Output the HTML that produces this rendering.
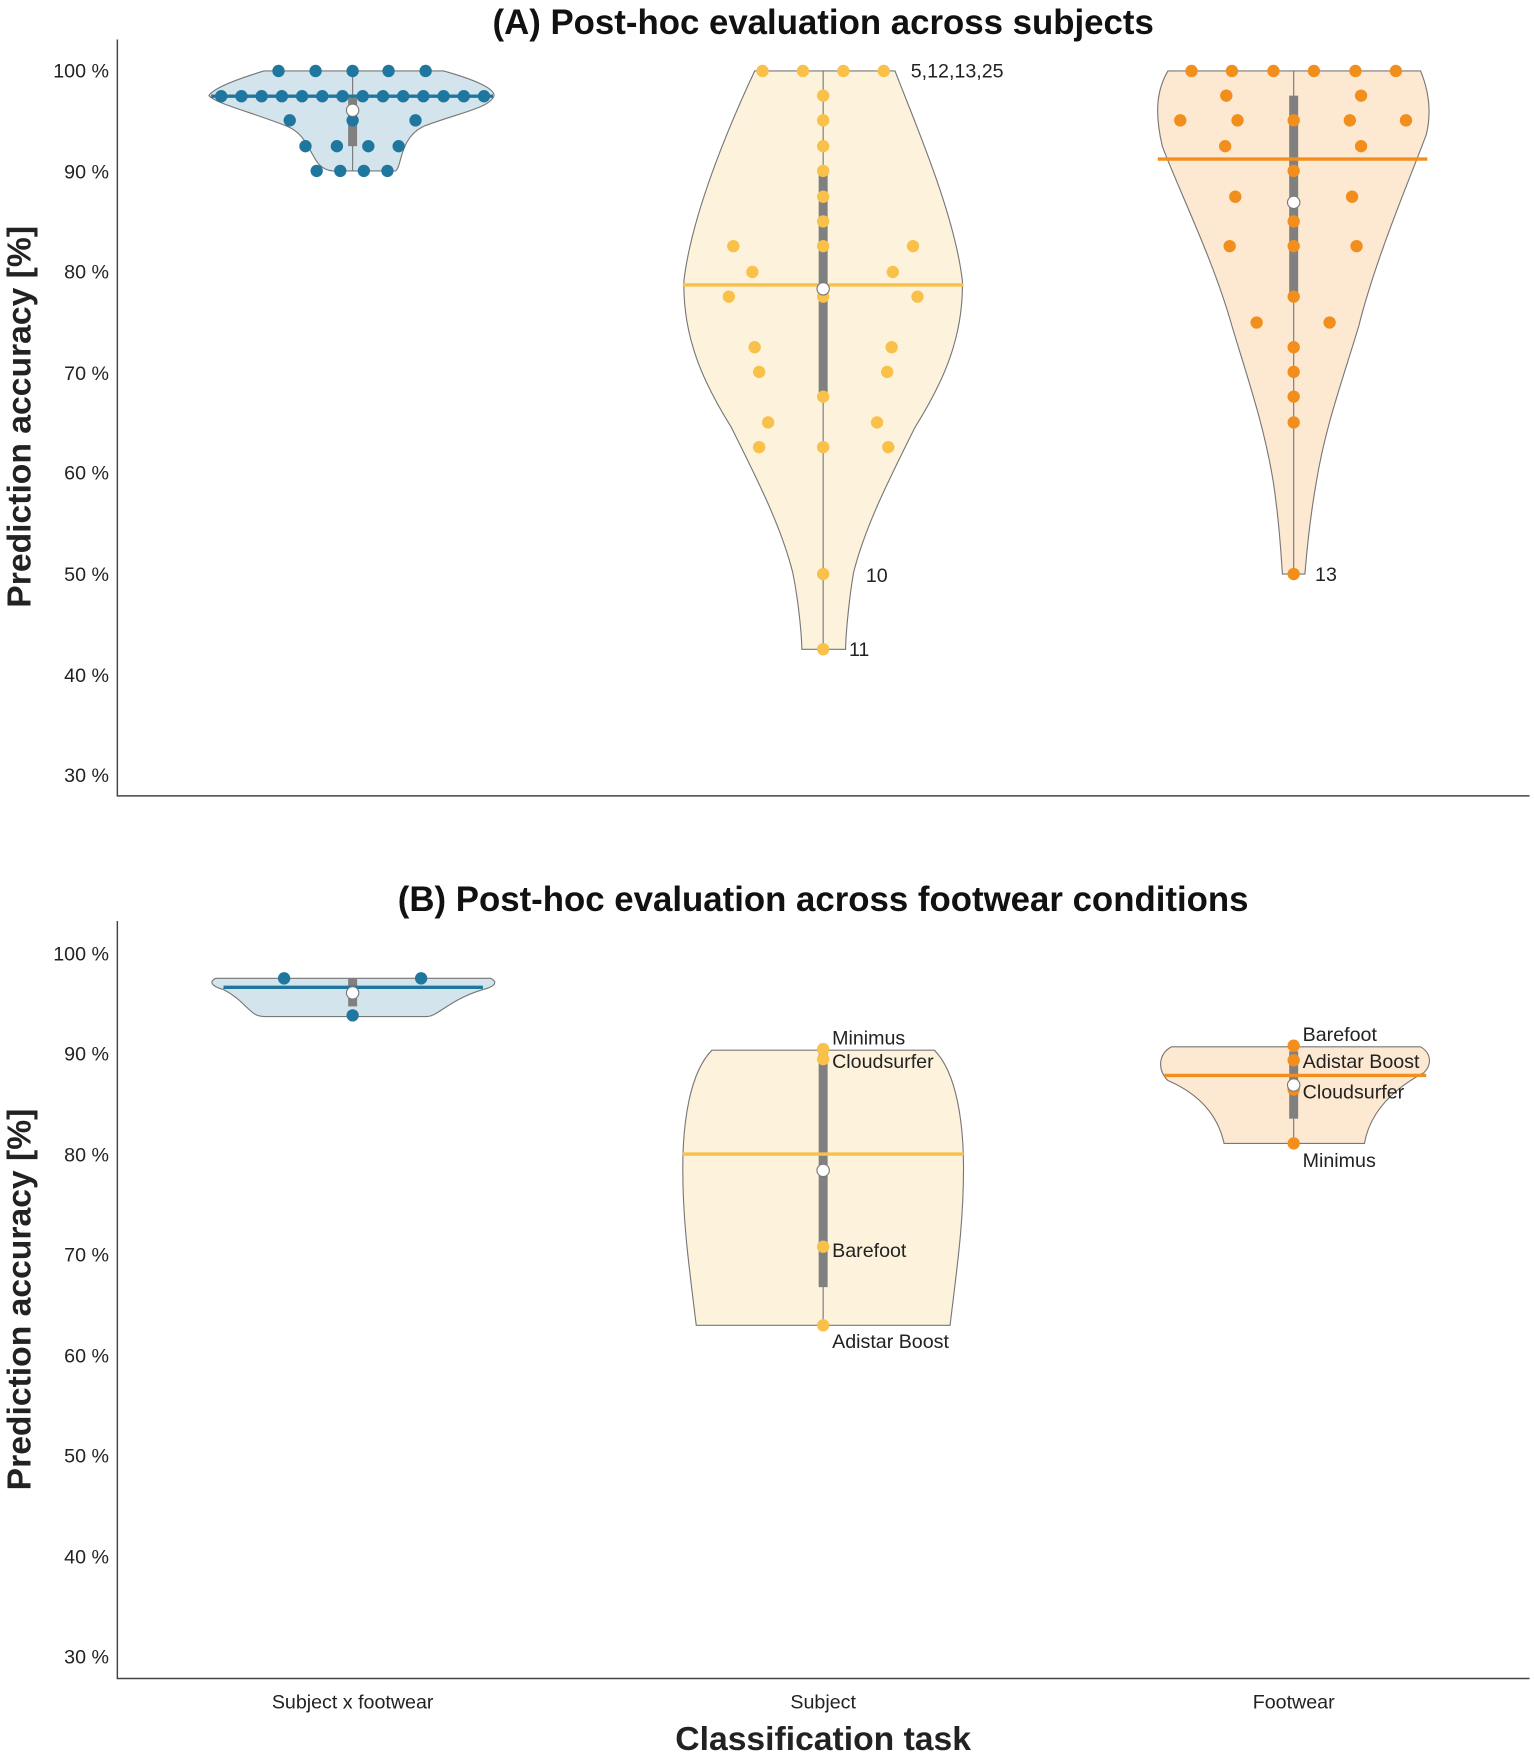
<!DOCTYPE html>
<html><head><meta charset="utf-8"><style>html,body{margin:0;padding:0;background:#fff}svg{display:block}</style></head>
<body>
<svg width="1534" height="1759" viewBox="0 0 1366 1566" xmlns="http://www.w3.org/2000/svg" font-family="Liberation Sans, Arial, sans-serif">
<rect width="1366" height="1566" fill="#fff"/>
<!-- ===== Panel A ===== -->
<text x="733" y="30" font-size="31" font-weight="bold" text-anchor="middle" fill="#111">(A) Post-hoc evaluation across subjects</text>
<path d="M104.5 35 V708.5 H1362" fill="none" stroke="#444" stroke-width="1.3"/>
<g font-size="17.5" fill="#222" text-anchor="end">
<text x="97" y="69">100 %</text><text x="97" y="159">90 %</text><text x="97" y="248">80 %</text><text x="97" y="338">70 %</text><text x="97" y="427">60 %</text><text x="97" y="517">50 %</text><text x="97" y="607">40 %</text><text x="97" y="696">30 %</text>
</g>
<text transform="translate(27,371) rotate(-90)" font-size="30" font-weight="bold" text-anchor="middle" fill="#222">Prediction accuracy [%]</text>

<!-- blue violin A -->
<path d="M235 63 L395 63 C420 70 440 78 440 85 C436 96 410 100 378 112 C355 122 358 150 352 152 L296 152 C275 150 280 122 255 112 C225 100 192 92 186 85 C190 78 212 70 235 63 Z" fill="#d3e4ec" stroke="#777" stroke-width="1"/>
<line x1="314" y1="63" x2="314" y2="152" stroke="#777" stroke-width="1"/>
<rect x="310" y="87" width="8" height="43" fill="#808080"/>
<line x1="188" y1="85.5" x2="439" y2="85.5" stroke="#1f77a0" stroke-width="3"/>
<g fill="#1f77a0">
<circle cx="248" cy="63" r="5.5"/><circle cx="281" cy="63" r="5.5"/><circle cx="314" cy="63" r="5.5"/><circle cx="346" cy="63" r="5.5"/><circle cx="379" cy="63" r="5.5"/>
<circle cx="197" cy="85.5" r="5.5"/><circle cx="215" cy="85.5" r="5.5"/><circle cx="233" cy="85.5" r="5.5"/><circle cx="251" cy="85.5" r="5.5"/><circle cx="269" cy="85.5" r="5.5"/><circle cx="287" cy="85.5" r="5.5"/><circle cx="305" cy="85.5" r="5.5"/><circle cx="323" cy="85.5" r="5.5"/><circle cx="341" cy="85.5" r="5.5"/><circle cx="359" cy="85.5" r="5.5"/><circle cx="377" cy="85.5" r="5.5"/><circle cx="395" cy="85.5" r="5.5"/><circle cx="413" cy="85.5" r="5.5"/><circle cx="431" cy="85.5" r="5.5"/>
<circle cx="258" cy="107" r="5.5"/><circle cx="314" cy="107" r="5.5"/><circle cx="370" cy="107" r="5.5"/>
<circle cx="272" cy="130" r="5.5"/><circle cx="300" cy="130" r="5.5"/><circle cx="328" cy="130" r="5.5"/><circle cx="355" cy="130" r="5.5"/>
<circle cx="282" cy="152" r="5.5"/><circle cx="303" cy="152" r="5.5"/><circle cx="324" cy="152" r="5.5"/><circle cx="345" cy="152" r="5.5"/>
</g>
<circle cx="314" cy="98" r="5.5" fill="#fff" stroke="#777" stroke-width="1"/>

<!-- yellow violin A -->
<path d="M672 63 L797 63 C815 110 850 190 857 250 C858 300 840 340 815 380 C790 430 770 470 760 510 C755 540 753 570 753 578 L714 578 C714 570 712 540 706 510 C696 470 676 430 651 380 C626 340 608 300 609 250 C616 190 650 110 672 63 Z" fill="#fdf3dc" stroke="#777" stroke-width="1"/>
<line x1="733" y1="63" x2="733" y2="578" stroke="#777" stroke-width="1"/>
<rect x="729" y="152" width="8" height="197" fill="#808080"/>
<line x1="608" y1="253.5" x2="858" y2="253.5" stroke="#f9c04a" stroke-width="3"/>
<g fill="#f9c04a">
<circle cx="679" cy="63" r="5.5"/><circle cx="715" cy="63" r="5.5"/><circle cx="751" cy="63" r="5.5"/><circle cx="787" cy="63" r="5.5"/>
<circle cx="733" cy="85" r="5.5"/><circle cx="733" cy="107" r="5.5"/><circle cx="733" cy="130" r="5.5"/><circle cx="733" cy="152" r="5.5"/><circle cx="733" cy="175" r="5.5"/><circle cx="733" cy="197" r="5.5"/><circle cx="733" cy="219" r="5.5"/>
<circle cx="653" cy="219" r="5.5"/><circle cx="813" cy="219" r="5.5"/>
<circle cx="670" cy="242" r="5.5"/><circle cx="795" cy="242" r="5.5"/>
<circle cx="649" cy="264" r="5.5"/><circle cx="817" cy="264" r="5.5"/><circle cx="733" cy="264" r="5.5"/>
<circle cx="672" cy="309" r="5.5"/><circle cx="794" cy="309" r="5.5"/>
<circle cx="676" cy="331" r="5.5"/><circle cx="790" cy="331" r="5.5"/>
<circle cx="733" cy="353" r="5.5"/>
<circle cx="684" cy="376" r="5.5"/><circle cx="781" cy="376" r="5.5"/>
<circle cx="676" cy="398" r="5.5"/><circle cx="791" cy="398" r="5.5"/><circle cx="733" cy="398" r="5.5"/>
<circle cx="733" cy="511" r="5.5"/><circle cx="733" cy="578" r="5.5"/>
</g>
<circle cx="733" cy="257" r="5.5" fill="#fff" stroke="#777" stroke-width="1"/>
<g font-size="17.5" fill="#222">
<text x="811" y="69">5,12,13,25</text><text x="771" y="518">10</text><text x="756" y="584">11</text>
</g>

<!-- orange violin A -->
<path d="M1040 63 L1265 63 C1272 80 1275 100 1270 120 C1255 160 1225 230 1210 290 C1195 340 1180 380 1172 430 C1165 470 1163 500 1162 511 L1142 511 C1141 500 1140 470 1134 430 C1126 380 1112 340 1097 290 C1080 230 1050 170 1035 130 C1028 100 1030 80 1040 63 Z" fill="#fde8d2" stroke="#777" stroke-width="1"/>
<line x1="1152" y1="63" x2="1152" y2="511" stroke="#777" stroke-width="1"/>
<rect x="1148" y="85" width="8" height="179" fill="#808080"/>
<line x1="1031" y1="141.5" x2="1271" y2="141.5" stroke="#f28e1c" stroke-width="3"/>
<g fill="#f28e1c">
<circle cx="1061" cy="63" r="5.5"/><circle cx="1097" cy="63" r="5.5"/><circle cx="1134" cy="63" r="5.5"/><circle cx="1170" cy="63" r="5.5"/><circle cx="1207" cy="63" r="5.5"/><circle cx="1243" cy="63" r="5.5"/>
<circle cx="1092" cy="85" r="5.5"/><circle cx="1212" cy="85" r="5.5"/>
<circle cx="1051" cy="107" r="5.5"/><circle cx="1102" cy="107" r="5.5"/><circle cx="1152" cy="107" r="5.5"/><circle cx="1202" cy="107" r="5.5"/><circle cx="1252" cy="107" r="5.5"/>
<circle cx="1091" cy="130" r="5.5"/><circle cx="1212" cy="130" r="5.5"/>
<circle cx="1152" cy="152" r="5.5"/>
<circle cx="1100" cy="175" r="5.5"/><circle cx="1204" cy="175" r="5.5"/>
<circle cx="1152" cy="197" r="5.5"/>
<circle cx="1095" cy="219" r="5.5"/><circle cx="1152" cy="219" r="5.5"/><circle cx="1208" cy="219" r="5.5"/>
<circle cx="1152" cy="264" r="5.5"/>
<circle cx="1119" cy="287" r="5.5"/><circle cx="1184" cy="287" r="5.5"/>
<circle cx="1152" cy="309" r="5.5"/><circle cx="1152" cy="331" r="5.5"/><circle cx="1152" cy="353" r="5.5"/><circle cx="1152" cy="376" r="5.5"/>
<circle cx="1152" cy="511" r="5.5"/>
</g>
<circle cx="1152" cy="180" r="5.5" fill="#fff" stroke="#777" stroke-width="1"/>
<text x="1171" y="517" font-size="17.5" fill="#222">13</text>

<!-- ===== Panel B ===== -->
<text x="733" y="811" font-size="31" font-weight="bold" text-anchor="middle" fill="#111">(B) Post-hoc evaluation across footwear conditions</text>
<path d="M104.5 820 V1494.5 H1362" fill="none" stroke="#444" stroke-width="1.3"/>
<g font-size="17.5" fill="#222" text-anchor="end">
<text x="97" y="855">100 %</text><text x="97" y="944">90 %</text><text x="97" y="1034">80 %</text><text x="97" y="1123">70 %</text><text x="97" y="1213">60 %</text><text x="97" y="1302">50 %</text><text x="97" y="1392">40 %</text><text x="97" y="1481">30 %</text>
</g>
<text transform="translate(27,1157) rotate(-90)" font-size="30" font-weight="bold" text-anchor="middle" fill="#222">Prediction accuracy [%]</text>

<!-- blue B -->
<path d="M192 871 L437 871 C443 874 442 878 430 881 C400 890 390 905 380 905 L235 905 C222 905 220 892 199 881 C188 878 186 874 192 871 Z" fill="#d3e4ec" stroke="#777" stroke-width="1"/>
<rect x="310" y="871" width="8" height="25" fill="#808080"/>
<line x1="199" y1="879" x2="430" y2="879" stroke="#1f77a0" stroke-width="3"/>
<g fill="#1f77a0"><circle cx="253" cy="871" r="5.5"/><circle cx="375" cy="871" r="5.5"/><circle cx="314" cy="904" r="5.5"/></g>
<circle cx="314" cy="884" r="5.5" fill="#fff" stroke="#777" stroke-width="1"/>

<!-- yellow B -->
<path d="M634 935 L832 935 C852 955 858 1000 858 1040 C858 1090 852 1130 846 1180 L620 1180 C614 1130 608 1090 608 1040 C608 1000 614 955 634 935 Z" fill="#fdf3dc" stroke="#777" stroke-width="1"/>
<line x1="733" y1="935" x2="733" y2="1180" stroke="#777" stroke-width="1"/>
<rect x="729" y="935" width="8" height="211" fill="#808080"/>
<line x1="608" y1="1027.5" x2="858" y2="1027.5" stroke="#f9c04a" stroke-width="3"/>
<g fill="#f9c04a"><circle cx="733" cy="934" r="5.5"/><circle cx="733" cy="943" r="5.5"/><circle cx="733" cy="1110" r="5.5"/><circle cx="733" cy="1180" r="5.5"/></g>
<circle cx="733" cy="1042" r="5.5" fill="#fff" stroke="#777" stroke-width="1"/>
<g font-size="17.5" fill="#222">
<text x="741" y="930">Minimus</text><text x="741" y="951">Cloudsurfer</text><text x="741" y="1119">Barefoot</text><text x="741" y="1200">Adistar Boost</text>
</g>

<!-- orange B -->
<path d="M1043 932 L1265 932 C1275 938 1275 948 1268 955 C1240 970 1220 990 1215 1018 L1090 1018 C1085 995 1070 975 1040 962 C1030 952 1032 938 1043 932 Z" fill="#fde8d2" stroke="#777" stroke-width="1"/>
<line x1="1152" y1="932" x2="1152" y2="1018" stroke="#777" stroke-width="1"/>
<rect x="1148" y="936" width="8" height="60" fill="#808080"/>
<line x1="1037" y1="957.5" x2="1270" y2="957.5" stroke="#f28e1c" stroke-width="3"/>
<g fill="#f28e1c"><circle cx="1152" cy="931" r="5.5"/><circle cx="1152" cy="944" r="5.5"/><circle cx="1152" cy="970" r="5.5"/><circle cx="1152" cy="1018" r="5.5"/></g>
<circle cx="1152" cy="966" r="5.5" fill="#fff" stroke="#777" stroke-width="1"/>
<g font-size="17.5" fill="#222">
<text x="1160" y="927">Barefoot</text><text x="1160" y="951">Adistar Boost</text><text x="1160" y="978">Cloudsurfer</text><text x="1160" y="1039">Minimus</text>
</g>

<!-- x labels -->
<g font-size="17.5" fill="#222" text-anchor="middle">
<text x="314" y="1521">Subject x footwear</text><text x="733" y="1521">Subject</text><text x="1152" y="1521">Footwear</text>
</g>
<text x="733" y="1558" font-size="30" font-weight="bold" text-anchor="middle" fill="#222">Classification task</text>
</svg>
</body></html>
